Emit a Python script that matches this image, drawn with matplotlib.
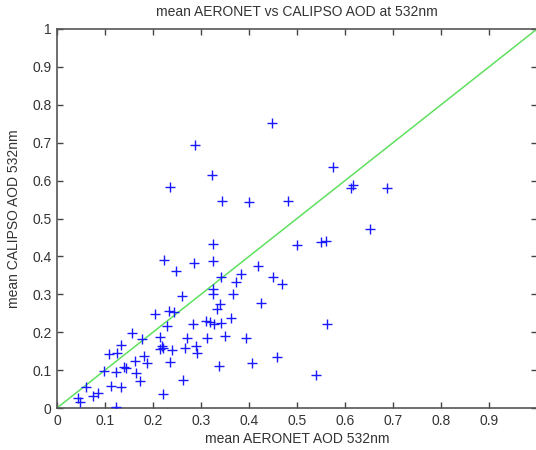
import matplotlib
matplotlib.use("Agg")
import matplotlib.pyplot as plt
import numpy as np

plt.rcParams['font.family'] = ['Liberation Sans', 'DejaVu Sans']

aeronet = [0.288, 0.322, 0.235, 0.344, 0.400, 0.324, 0.447, 0.576, 0.617, 0.612,
           0.482, 0.687, 0.652, 0.499, 0.549, 0.560, 0.222, 0.247, 0.286, 0.326,
           0.419, 0.341, 0.383, 0.373, 0.449, 0.469, 0.324, 0.324, 0.261, 0.366,
           0.424, 0.340, 0.334, 0.204, 0.233, 0.244, 0.362, 0.230, 0.283, 0.311,
           0.318, 0.327, 0.341, 0.562, 0.157, 0.178, 0.214, 0.270, 0.312, 0.350,
           0.393, 0.218, 0.215, 0.221, 0.240, 0.267, 0.289, 0.291, 0.133, 0.126,
           0.109, 0.163, 0.182, 0.187, 0.236, 0.098, 0.140, 0.144, 0.123, 0.164,
           0.173, 0.338, 0.406, 0.458, 0.263, 0.540, 0.113, 0.133, 0.060, 0.086,
           0.076, 0.044, 0.048, 0.123, 0.221]
calipso = [0.694, 0.615, 0.582, 0.547, 0.544, 0.433, 0.751, 0.635, 0.588, 0.580,
           0.547, 0.580, 0.471, 0.429, 0.439, 0.441, 0.390, 0.361, 0.382, 0.389,
           0.375, 0.345, 0.354, 0.333, 0.345, 0.327, 0.315, 0.301, 0.296, 0.302,
           0.277, 0.274, 0.260, 0.249, 0.256, 0.254, 0.237, 0.216, 0.222, 0.230,
           0.228, 0.222, 0.223, 0.222, 0.199, 0.181, 0.187, 0.184, 0.184, 0.190,
           0.184, 0.164, 0.156, 0.157, 0.152, 0.158, 0.164, 0.144, 0.166, 0.146,
           0.143, 0.125, 0.136, 0.120, 0.122, 0.098, 0.109, 0.105, 0.094, 0.092,
           0.072, 0.112, 0.120, 0.134, 0.074, 0.087, 0.058, 0.055, 0.055, 0.039,
           0.031, 0.026, 0.015, 0.003, 0.037]
one_to_one = [0.0, 1.0]

x_ticks = [0, 0.1, 0.2, 0.3, 0.4, 0.5, 0.6, 0.7, 0.8, 0.9, 1.0]
x_tick_labels = ['0', '0.1', '0.2', '0.3', '0.4', '0.5', '0.6', '0.7', '0.8', '0.9', '']
y_ticks = [0, 0.1, 0.2, 0.3, 0.4, 0.5, 0.6, 0.7, 0.8, 0.9, 1.0]
y_tick_labels = ['0', '0.1', '0.2', '0.3', '0.4', '0.5', '0.6', '0.7', '0.8', '0.9', '1']

fig = plt.figure(figsize=(5.36, 4.5), dpi=100)
ax = fig.add_axes([57/536, 1-408/450, 480/536, 379/450])

ax.plot(one_to_one, one_to_one, color='#5ee05e', linewidth=1.1, zorder=2)
ax.plot(aeronet, calipso, linestyle='none', marker='+', color='#1a1aff',
        markersize=7, markeredgewidth=1.0, zorder=3)

ax.set_xlim(0, 1)
ax.set_ylim(0, 1)
ax.set_xticks(x_ticks)
ax.set_xticklabels(x_tick_labels)
ax.set_yticks(y_ticks)
ax.set_yticklabels(y_tick_labels)
ax.tick_params(direction='in', length=4, width=1, colors='#444444',
               labelcolor='#333333', labelsize=10, top=True, right=True, pad=4)
for s in ax.spines.values():
    s.set_color('#555555')
    s.set_linewidth(1.2)

ax.set_title('mean AERONET vs CALIPSO AOD at 532nm', fontsize=10, color='#333333', pad=9)
ax.set_xlabel('mean AERONET AOD 532nm', fontsize=10, color='#333333', labelpad=3)
ax.set_ylabel('mean CALIPSO AOD 532nm', fontsize=10, color='#333333', labelpad=8)

fig.savefig('out.png', dpi=100)
